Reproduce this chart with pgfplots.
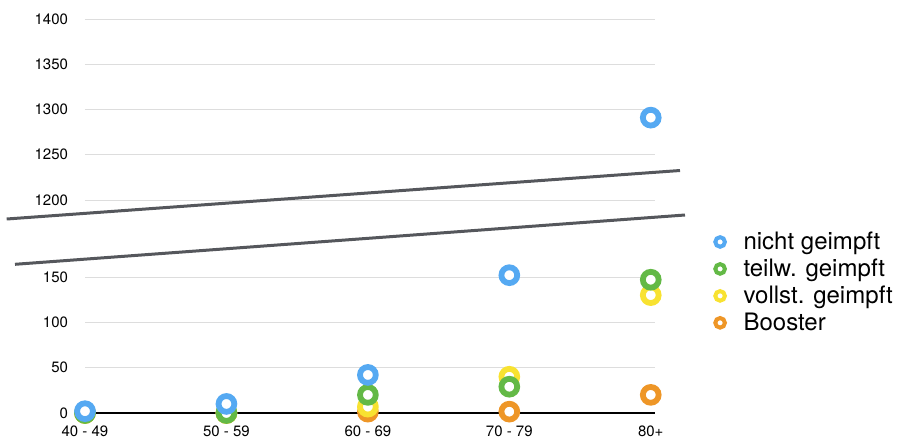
\documentclass[border=0pt]{standalone}
\usepackage{fontspec}
\setmainfont{TeX Gyre Heros}
\usepackage{pgfplots}
\pgfplotsset{compat=1.18}

\definecolor{cblue}{HTML}{55A9F2}
\definecolor{cgreen}{HTML}{63B946}
\definecolor{cyellow}{HTML}{F8E231}
\definecolor{corange}{HTML}{EE9627}
\definecolor{cgrid}{HTML}{DDDDDD}
\definecolor{cbreak}{HTML}{55575C}

\pgfplotsset{
  ring/.style={only marks, mark=*, color=#1, mark size=3.95pt,
    mark options={line width=2.9pt, fill=white}},
  base/.style={scale only axis, width=285pt, xmin=0, xmax=4.03,
    clip=false, major tick length=0pt, anchor=south west,
    ymajorgrids, grid style={cgrid, line width=0.5pt},
    tick label style={font=\fontsize{7.5}{9}\selectfont},
    /pgf/number format/assume math mode=true,
    /pgf/number format/1000 sep={},
    yticklabel style={xshift=-5pt}},
}

\begin{document}
\begin{tikzpicture}
\path[use as bounding box] (0,0) rectangle (450pt,220.5pt);

% untere Achse 0-150
\begin{axis}[base, at={(42.5pt,14pt)}, height=68pt,
    ymin=0, ymax=150, ytick={0,50,100,150},
    xtick={0,...,4},
    xticklabels={40 - 49,50 - 59,60 - 69,70 - 79,80+},
    xticklabel style={yshift=-3pt},
    axis x line*=bottom, axis y line*=left,
    x axis line style={-, line width=1pt, black},
    y axis line style={draw=none},
    legend reversed, legend cell align=left,
    legend image code/.code={\draw[mark size=2.4pt,
        mark options={line width=2pt, fill=white}]
        plot coordinates {(0.15cm,0cm)};
        \path[draw=none] (0pt,0pt) -- (14pt,0pt);},
    legend style={at={(1.088,1.395)}, anchor=north west,
      draw=none, fill=none, row sep=-0.8pt,
      font=\fontsize{12}{14}\selectfont},
  ]
  \addplot[ring=corange] coordinates {(0,0) (1,0) (2,1.5) (3,1.5) (4,20)};
  \addlegendentry{Booster}
  \addplot[ring=cyellow] coordinates {(0,0) (1,0) (2,7) (3,40) (4,130)};
  \addlegendentry{vollst. geimpft}
  \addplot[ring=cgreen] coordinates {(0,0) (1,0) (2,20) (3,29) (4,147)};
  \addlegendentry{teilw. geimpft}
  \addplot[ring=cblue] coordinates {(0,2) (1,10) (2,42) (3,152)};
  \addlegendentry{nicht geimpft}
\end{axis}

% obere Achse 1200-1400
\begin{axis}[base, at={(42.5pt,120.5pt)}, height=90.5pt,
    ymin=1200, ymax=1400, ytick={1200,1250,...,1400},
    xtick=\empty, axis line style={draw=none}]
  \addplot[ring=cblue] coordinates {(4,1291)};
\end{axis}

% Achsenbruch
\draw[cbreak, line width=1.5pt] (3.35pt,111pt) -- (340pt,135.25pt);
\draw[cbreak, line width=1.5pt] (7.5pt,88.35pt) -- (342.5pt,113pt);
\end{tikzpicture}
\end{document}
